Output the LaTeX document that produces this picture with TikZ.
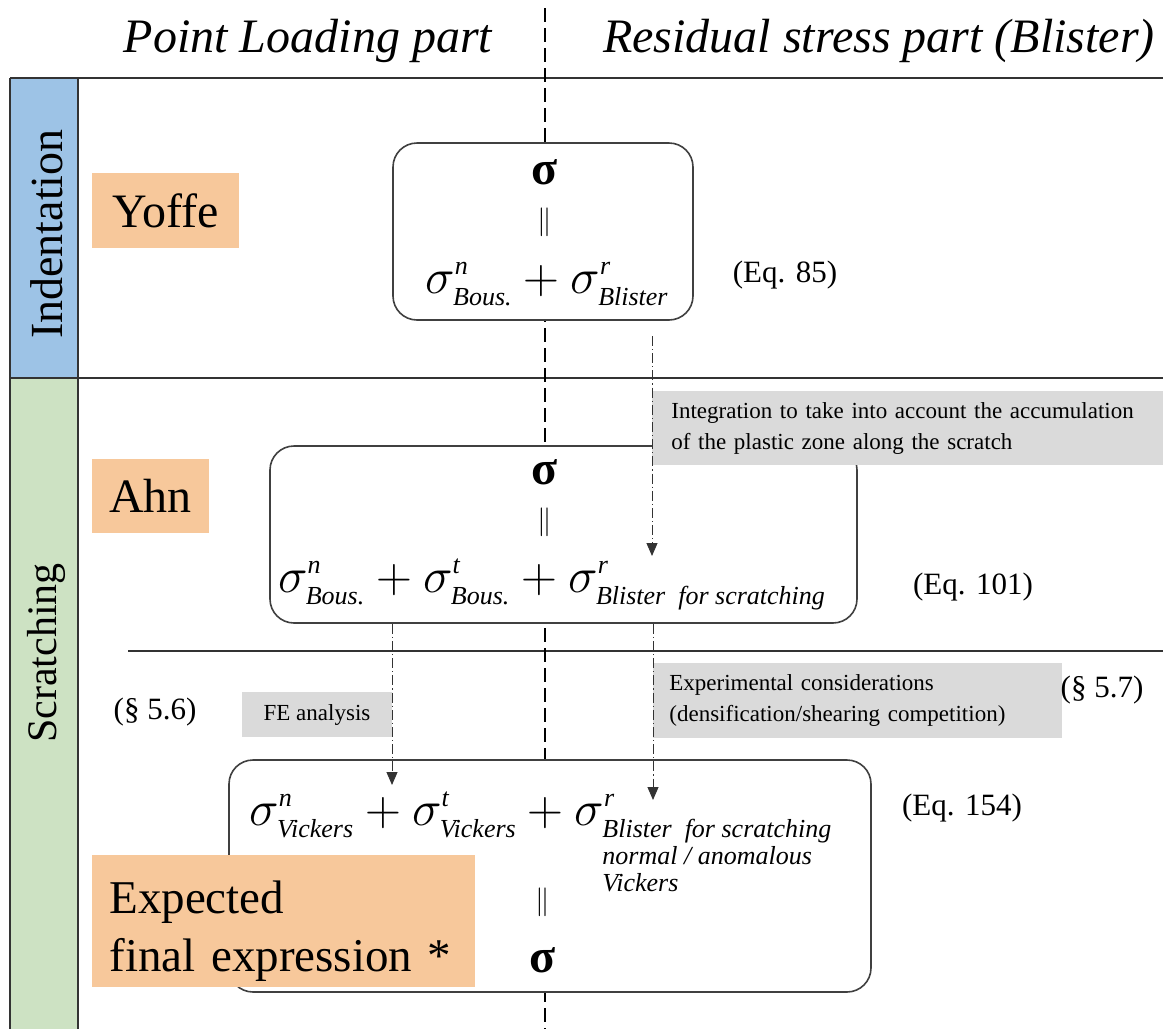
\documentclass[tikz,border=0pt]{standalone}
\usepackage{fontspec}
\setmainfont{Liberation Serif}
\usetikzlibrary{arrows.meta}
\definecolor{rowblue}{RGB}{157,195,230}
\definecolor{rowgreen}{RGB}{205,226,195}
\definecolor{namefill}{RGB}{247,200,155}
\definecolor{notefill}{RGB}{218,218,218}
\newcommand{\sidx}[1]{\mbox{\fontsize{13}{13.5}\selectfont\itshape #1}}

\begin{document}
\begin{tikzpicture}[
        x=0.5pt,
        y=-0.5pt,
        frame/.style={line width=0.8pt, black!80},
        midline/.style={line width=0.7pt, dash pattern=on 7pt off 3pt},
        eqbox/.style={draw=black!75, line width=0.8pt, rounded corners=12pt, fill=white, inner sep=0pt},
        namebox/.style={fill=namefill, font=\fontsize{24}{28}\selectfont, inner sep=0pt},
        note/.style={fill=notefill, font=\fontsize{11.5}{15.5}\selectfont, align=left, inner ysep=0pt},
        sig/.style={font=\fontsize{24}{28}\selectfont\bfseries, inner sep=0pt},
        eqsign/.style={font=\fontsize{15}{17}\selectfont, inner sep=0pt},
        sum/.style={font=\fontsize{23}{27}\selectfont, inner sep=0pt},
        eqref/.style={font=\fontsize{15.5}{18}\selectfont, inner sep=0pt},
        title/.style={font=\fontsize{24}{28}\selectfont\itshape, inner sep=0pt, anchor=base},
        rowname/.style={rotate=90, inner sep=0pt},
        flow/.style={line width=0.5pt, black!80, dash pattern=on 5pt off 1.5pt on 0.6pt off 1.5pt, -{Triangle[width=5.5pt,length=6.5pt]}}
    ]
    \useasboundingbox (0,0) rectangle (1163,1029);

    \fill[rowblue] (10,78) rectangle (78,378);
    \fill[rowgreen] (10,378) rectangle (78,1029);

    \draw[frame, line width=1.2pt] (10,78) -- (1163,78);
    \draw[frame] (10,378) -- (1163,378);
    \draw[frame] (128,651) -- (1163,651);
    \draw[frame] (10,78) -- (10,1029);
    \draw[frame] (78,78) -- (78,1029);
    \draw[midline] (545,8) -- (545,1029);

    \node[title] (loadTitle) at (308,52) {Point Loading part};
    \node[title] (blisterTitle) at (879,52) {Residual stress part (Blister)};

    \node[rowname, font=\fontsize{23}{26}\selectfont] (indentRow) at (47,234) {Indentation};
    \node[rowname, font=\fontsize{21}{24}\selectfont] (scratchRow) at (46,653) {Scratching};

    \node[namebox, minimum width=73.5pt, minimum height=37.5pt] (yoffe) at (165.5,210.5) {Yoffe};
    \node[namebox, minimum width=58.5pt, minimum height=37pt] (ahn) at (150.5,496) {Ahn};

    \node[eqbox, minimum width=150pt, minimum height=88.5pt] (boxA) at (543,231.5) {};
    \node[eqbox, minimum width=293.5pt, minimum height=88.5pt] (boxB) at (563.5,534.5) {};
    \node[eqbox, minimum width=321pt, minimum height=116pt] (boxC) at (550,876) {};

    \node[sig] (sigA) at (545,172) {σ};
    \node[eqsign] (eqA) at (545,222) {$\|$};
    \node[sum, anchor=base] (sumA) at (547,293)
        {$\sigma^{\sidx{n}}_{\sidx{Bous.}}+\sigma^{\sidx{r}}_{\sidx{Blister}}$};

    \node[sig] (sigB) at (545,472) {σ};
    \node[eqsign] (eqB) at (545,522) {$\|$};
    \node[sum, anchor=base] (sumB) at (552,592)
        {$\sigma^{\sidx{n}}_{\sidx{Bous.}}+\sigma^{\sidx{t}}_{\sidx{Bous.}}+\sigma^{\sidx{r}}_{\sidx{Blister~ for scratching}}$};

    \node[sum, anchor=base west] (sumC) at (249,825)
        {$\sigma^{\sidx{n}}_{\sidx{Vickers}}+\sigma^{\sidx{t}}_{\sidx{Vickers}}+\sigma^{\sidx{r}}_{\sidx{\begin{tabular}[t]{@{}l@{}}Blister~ for scratching\\ normal / anomalous\\ Vickers\end{tabular}}}$};
    \node[eqsign] (eqC) at (543,902) {$\|$};
    \node[sig] (sigC) at (543,960) {σ};

    \node[namebox, anchor=north west, minimum width=191.5pt, minimum height=66pt, text width=174.5pt,
        inner xsep=8.5pt, align=left, font=\fontsize{23.5}{29}\selectfont] (expected) at (92,855)
        {\rule{0pt}{26pt}Expected\\ final expression *};

    \node[note, anchor=north west, minimum width=255.5pt, minimum height=37pt, text width=240pt, inner xsep=9.5pt] (intNote) at (652,391)
        {Integration to take into account the accumulation\\ of the plastic zone along the scratch};
    \node[note, anchor=north west, minimum width=204.5pt, minimum height=37.5pt, text width=188.5pt, inner xsep=8pt] (expNote) at (653,663)
        {Experimental considerations\\ (densification/shearing competition)};
    \node[note, align=center, minimum width=75pt, minimum height=22.5pt] (feNote) at (317,714.5) {FE analysis};

    \node[eqref] (eq85) at (785,275) {(Eq. 85)};
    \node[eqref] (eq101) at (973,587) {(Eq. 101)};
    \node[eqref] (eq154) at (962,808) {(Eq. 154)};
    \node[eqref] (sec56) at (155,712) {(§ 5.6)};
    \node[eqref] (sec57) at (1102,690) {(§ 5.7)};

    \coordinate (intStart) at (652,336);
    \coordinate (intTip) at (652,556);
    \coordinate (feTip) at (392,785);
    \coordinate (expTip) at (653,800);
    \draw[flow] (intStart) -- (intTip);
    \draw[flow] (boxB.south -| feTip) -- (feTip);
    \draw[flow] (boxB.south -| expTip) -- (expTip);
\end{tikzpicture}
\end{document}
